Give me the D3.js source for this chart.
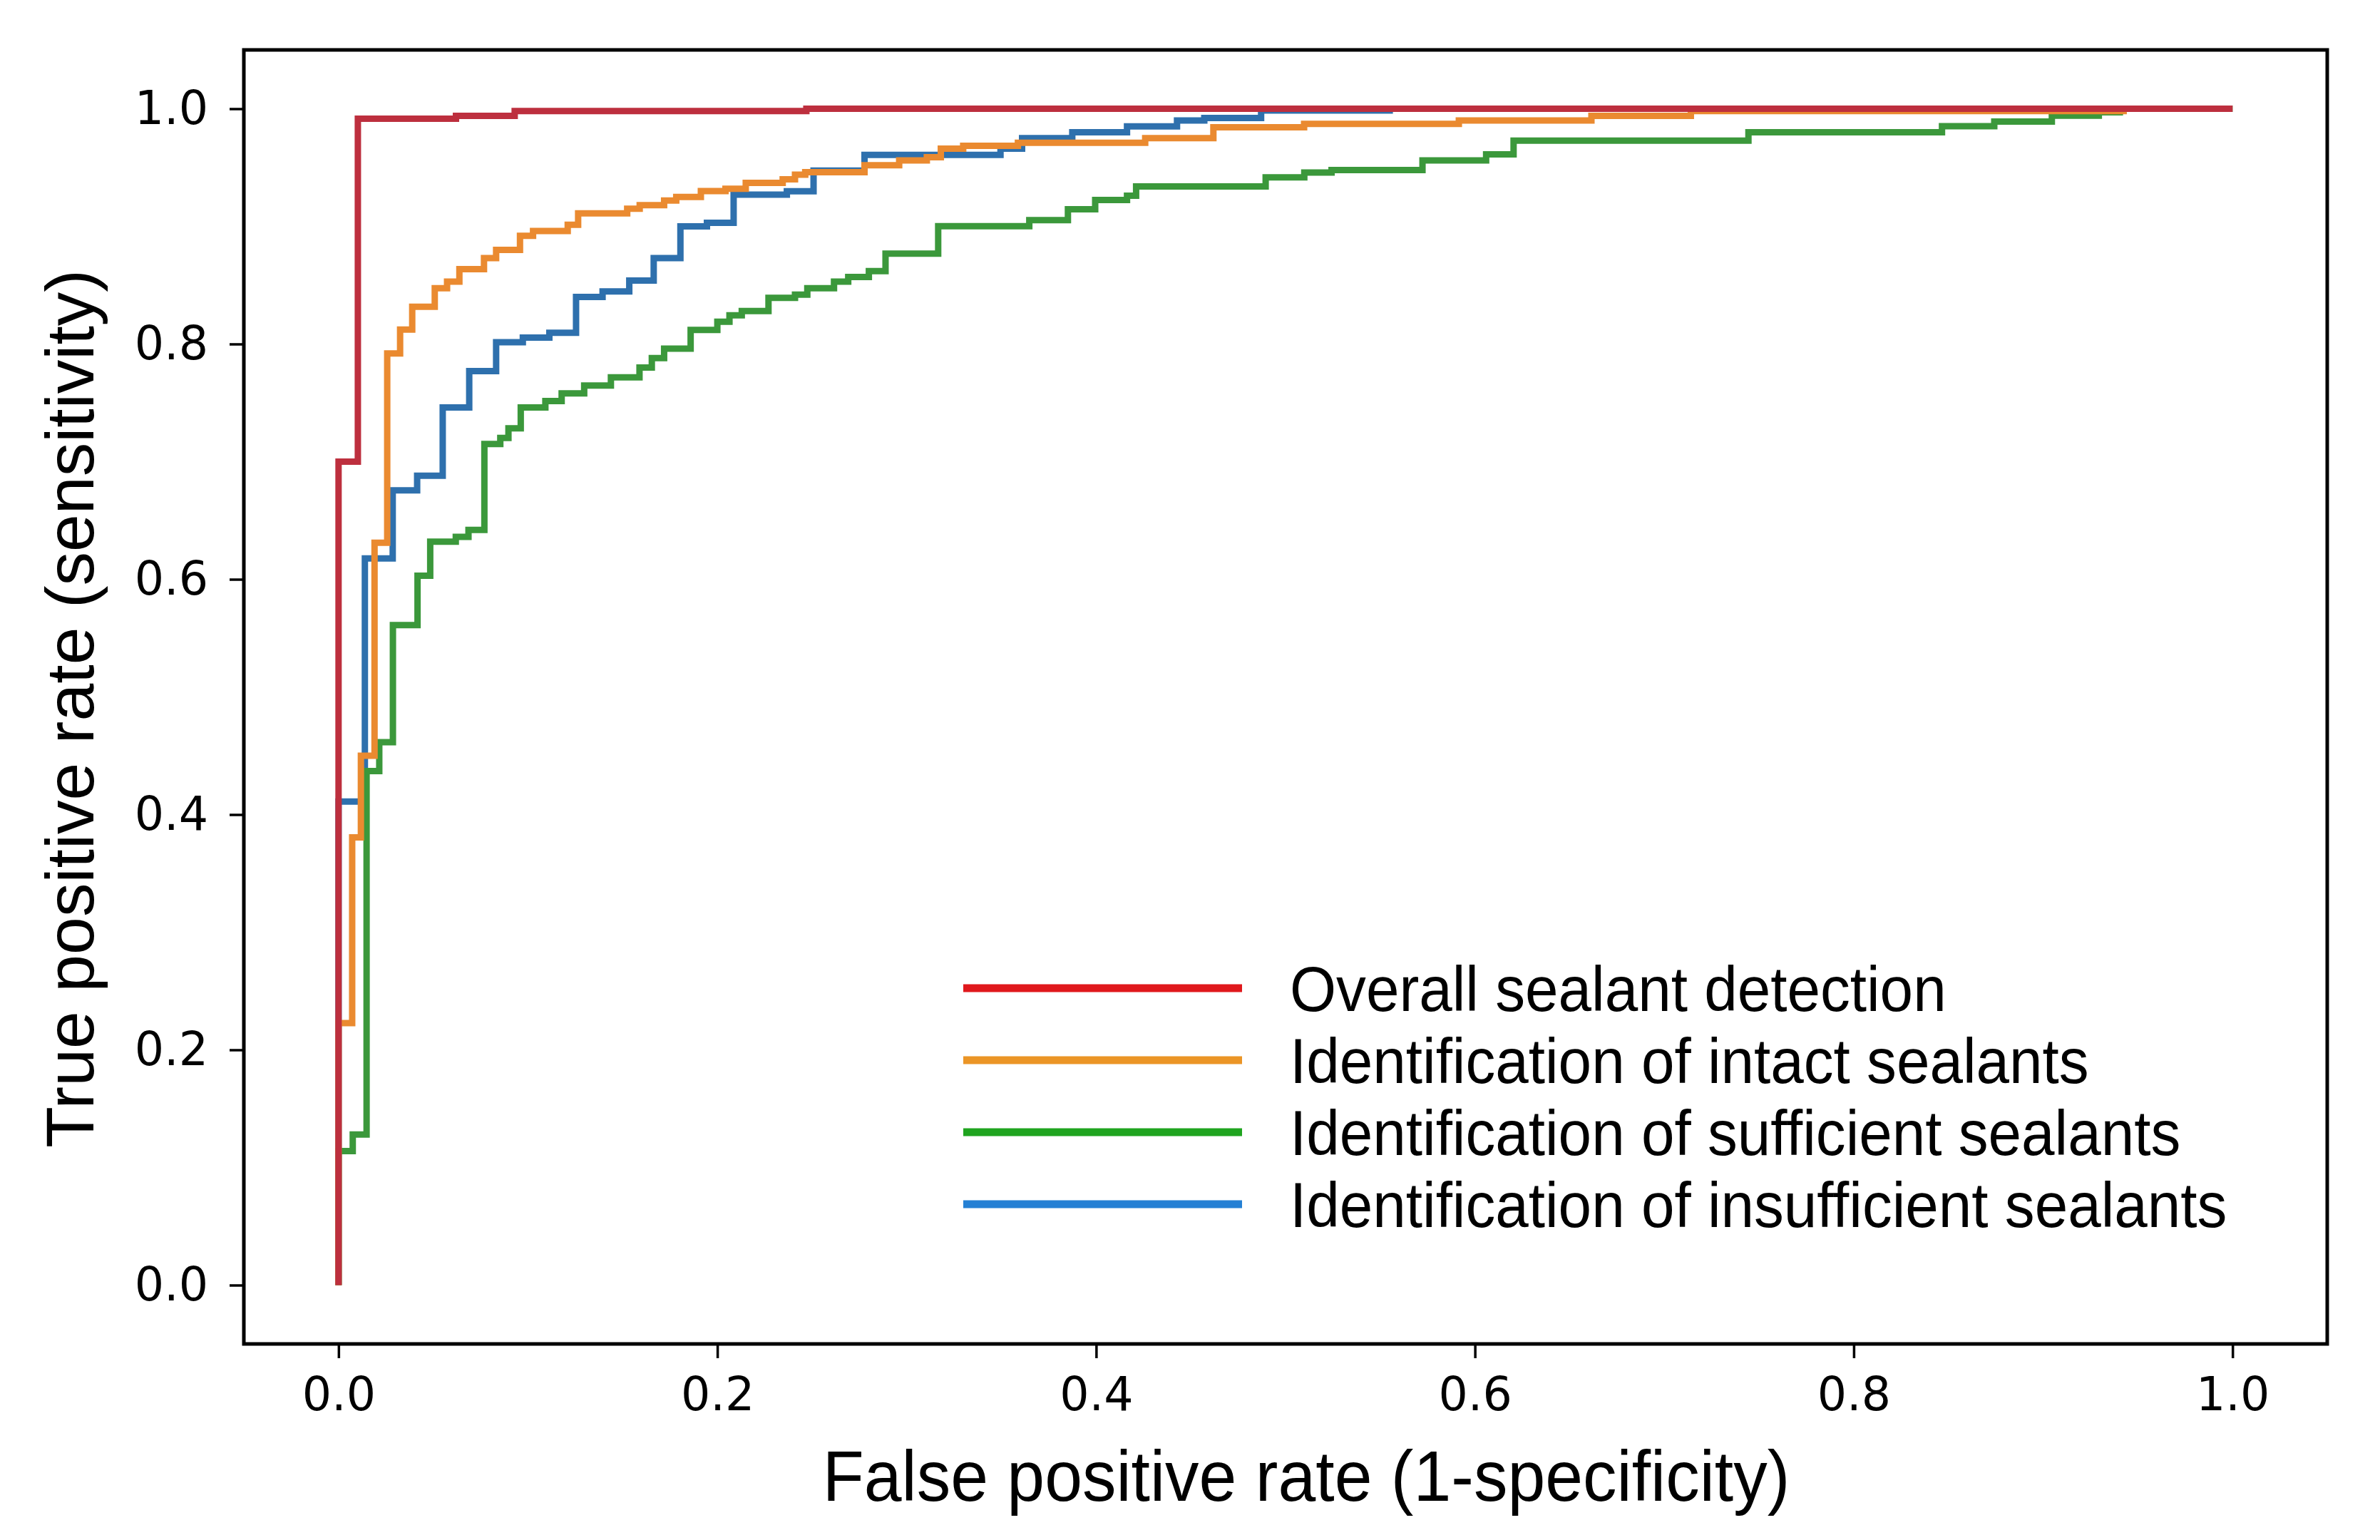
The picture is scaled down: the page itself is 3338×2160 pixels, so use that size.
<!DOCTYPE html>
<html>
<head>
<meta charset="utf-8">
<script src="https://cdn.jsdelivr.net/npm/d3@7"></script>
<style>
  body { margin: 0; background: #fff; }
  svg { display: block; }
</style>
</head>
<body>
<svg id="chart"></svg>
<script>
// ROC curves: each point is (fpr, tpr) where the curve steps up
const overallFpr = [0, 0, 0.0102, 0.062, 0.093, 0.247, 1.0];
const overallTpr = [0, 0.70, 0.9915, 0.994, 0.998, 1.0, 1.0];

const intactFpr = [0, 0, 0.0072, 0.0118, 0.019, 0.0257, 0.0325, 0.0389, 0.0508, 0.0573, 0.0638,
  0.0768, 0.0832, 0.0958, 0.1027, 0.121, 0.1265, 0.1524, 0.159, 0.1719, 0.1783, 0.1913, 0.2043,
  0.215, 0.2345, 0.241, 0.2464, 0.2777, 0.296, 0.3106, 0.318, 0.3298, 0.3587, 0.4259, 0.4619,
  0.5098, 0.5915, 0.6615, 0.714, 0.9425, 1.0];
const intactTpr = [0, 0.2227, 0.3806, 0.450, 0.631, 0.792, 0.8122, 0.8317, 0.8474, 0.853, 0.8636,
  0.873, 0.880, 0.892, 0.896, 0.9013, 0.911, 0.915, 0.918, 0.922, 0.925, 0.930, 0.932,
  0.937, 0.940, 0.944, 0.946, 0.952, 0.956, 0.9588, 0.966, 0.9685, 0.971, 0.975, 0.9842,
  0.9871, 0.990, 0.994, 0.998, 1.0, 1.0];

const sufficientFpr = [0, 0, 0.0075, 0.0148, 0.0215, 0.0287, 0.0417, 0.0484, 0.0619, 0.0686, 0.077,
  0.0854, 0.0897, 0.0962, 0.1092, 0.1178, 0.1297, 0.1438, 0.1589, 0.1654, 0.1719, 0.1859, 0.2,
  0.2064, 0.2129, 0.227, 0.241, 0.2475, 0.2616, 0.2691, 0.280, 0.2888, 0.3166, 0.3647, 0.3851,
  0.3995, 0.4163, 0.4211, 0.4895, 0.5099, 0.5243, 0.5723, 0.6059, 0.6204, 0.7444, 0.8466, 0.8742,
  0.9046, 0.9294, 0.9405, 1.0];
const sufficientTpr = [0, 0.114, 0.128, 0.437, 0.4615, 0.561, 0.603, 0.632, 0.636, 0.642, 0.715,
  0.7202, 0.7283, 0.746, 0.7515, 0.758, 0.7647, 0.7717, 0.780, 0.788, 0.796, 0.812, 0.819,
  0.8244, 0.828, 0.8393, 0.842, 0.8474, 0.853, 0.857, 0.862, 0.8768, 0.9002, 0.9053, 0.9145,
  0.9224, 0.926, 0.934, 0.9416, 0.9457, 0.9479, 0.956, 0.9612, 0.9729, 0.980, 0.9851, 0.9891,
  0.9941, 0.997, 1.0, 1.0];

const insufficientFpr = [0, 0, 0.0139, 0.0286, 0.0415, 0.055, 0.069, 0.0832, 0.0973, 0.1113, 0.1254,
  0.1394, 0.1535, 0.1664, 0.1805, 0.1945, 0.2086, 0.2367, 0.2508, 0.2777, 0.3495, 0.3609, 0.3874,
  0.4163, 0.4427, 0.4571, 0.4871, 0.555, 1.0];
const insufficientTpr = [0, 0.411, 0.6178, 0.6756, 0.688, 0.746, 0.777, 0.8015, 0.8055, 0.8096, 0.840,
  0.8447, 0.854, 0.873, 0.900, 0.903, 0.927, 0.9299, 0.9475, 0.9608, 0.966, 0.975, 0.980,
  0.985, 0.990, 0.9921, 0.9985, 1.0, 1.0];

const seriesNames = [
  "Overall sealant detection",
  "Identification of intact sealants",
  "Identification of sufficient sealants",
  "Identification of insufficient sealants"
];
const xTicks = [0, 0.2, 0.4, 0.6, 0.8, 1.0];
const yTicks = [0, 0.2, 0.4, 0.6, 0.8, 1.0];

const series = [
  { name: seriesNames[0], fpr: overallFpr, tpr: overallTpr, color: "#bd2f3e", legend: "#e0181c" },
  { name: seriesNames[1], fpr: intactFpr, tpr: intactTpr, color: "#ea8a30", legend: "#eb9526" },
  { name: seriesNames[2], fpr: sufficientFpr, tpr: sufficientTpr, color: "#3b983b", legend: "#1fa41f" },
  { name: seriesNames[3], fpr: insufficientFpr, tpr: insufficientTpr, color: "#2e70ad", legend: "#2580d4" }
];

const W = 3338, H = 2160;
const margin = { top: 70, right: 3338 - 3264, bottom: 2160 - 1885, left: 342 },
      width = W - margin.left - margin.right,
      height = H - margin.top - margin.bottom;

const svg = d3.select("#chart")
  .attr("width", W)
  .attr("height", H);

svg.append("rect").attr("width", W).attr("height", H).attr("fill", "#fff");

const g = svg.append("g")
  .attr("transform", `translate(${margin.left},${margin.top})`);

const x = d3.scaleLinear().domain([-0.05, 1.05]).range([0, width]);
const y = d3.scaleLinear().domain([-0.05, 1.05]).range([height, 0]);

const line = d3.line()
  .x(d => x(d[0]))
  .y(d => y(d[1]))
  .curve(d3.curveStepAfter);

// draw reverse order so the red curve sits on top
series.slice().reverse().forEach(s => {
  g.append("path")
    .datum(s.fpr.map((f, i) => [f, s.tpr[i]]))
    .attr("fill", "none")
    .attr("stroke", s.color)
    .attr("stroke-width", 9)
    .attr("stroke-linejoin", "miter")
    .attr("d", line);
});

// axes
const xAxis = g.append("g")
  .attr("transform", `translate(0,${height})`)
  .call(d3.axisBottom(x).tickValues(xTicks).tickFormat(d3.format(".1f")).tickSize(20).tickPadding(27));

const yAxis = g.append("g")
  .call(d3.axisLeft(y).tickValues(yTicks).tickFormat(d3.format(".1f")).tickSize(20).tickPadding(30));

[xAxis, yAxis].forEach(a => {
  a.select(".domain").remove();
  a.selectAll(".tick line").attr("stroke", "#000").attr("stroke-width", 3.5);
  a.selectAll(".tick text")
    .attr("fill", "#000")
    .style("font-family", "'DejaVu Sans', sans-serif")
    .style("font-size", "65px");
});

// frame
g.append("rect")
  .attr("width", width)
  .attr("height", height)
  .attr("fill", "none")
  .attr("stroke", "#000")
  .attr("stroke-width", 5);

// axis titles
svg.append("text")
  .attr("transform", "translate(1832,2105) scale(0.95,1)")
  .attr("text-anchor", "middle")
  .style("font-family", "'Liberation Sans', Arial, sans-serif")
  .style("font-size", "100px")
  .text("False positive rate (1-specificity)");

svg.append("text")
  .attr("transform", "translate(131,994) rotate(-90)")
  .attr("text-anchor", "middle")
  .style("font-family", "'Liberation Sans', Arial, sans-serif")
  .style("font-size", "95px")
  .text("True positive rate (sensitivity)");

// legend
const legend = svg.append("g");
const legendY = d3.scaleLinear().domain([0, 3]).range([1386, 1689]);

series.forEach((s, i) => {
  const ly = legendY(i);
  legend.append("line")
    .attr("x1", 1351).attr("x2", 1742)
    .attr("y1", ly).attr("y2", ly)
    .attr("stroke", s.legend)
    .attr("stroke-width", 11);
  legend.append("text")
    .attr("transform", `translate(1809,${ly + 32}) scale(0.94,1)`)
    .style("font-family", "'Liberation Sans', Arial, sans-serif")
    .style("font-size", "89px")
    .text(s.name);
});
</script>
</body>
</html>
